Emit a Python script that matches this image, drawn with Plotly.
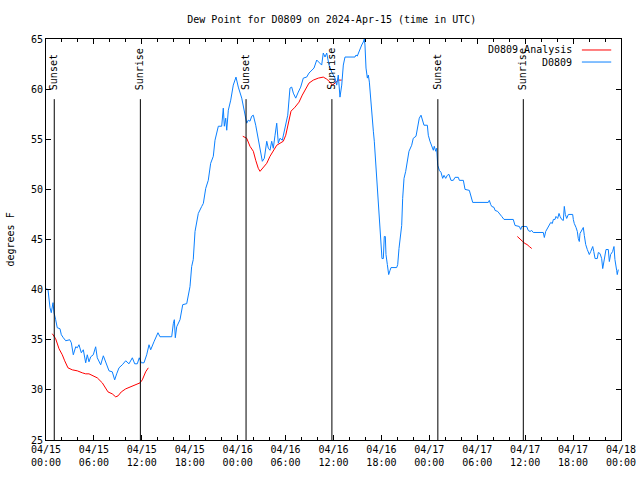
import pandas as pd
import plotly.graph_objects as go

START = pd.Timestamp("2024-04-15 00:00")
TITLE = "Dew Point for D0809 on 2024-Apr-15 (time in UTC)"

# observed dew point (hours since start, degrees F)
obs_hours = [0.05, 0.25, 0.50, 0.66, 0.88, 1.00, 1.21, 1.41, 1.75, 1.92, 2.17, 2.47, 2.97, 3.17, 3.42, 3.72,
             3.92, 4.13, 4.42, 4.67, 4.97, 5.17, 5.38, 5.60, 5.92, 6.22, 6.42, 6.85, 7.18, 7.48, 7.89, 8.30,
             8.60, 8.85, 9.14, 9.55, 9.98, 10.39, 10.81, 11.11, 11.43, 11.68, 11.93, 12.27, 12.61, 12.90,
             13.11, 13.52, 14.02, 14.27, 15.74, 15.94, 16.07, 16.19, 16.37, 16.78, 17.12, 17.62, 18.03,
             18.24, 18.44, 18.66, 19.07, 19.50, 19.70, 20.00, 20.32, 20.62, 20.95, 21.16, 21.38, 21.58,
             22.00, 22.20, 22.33, 22.50, 22.63, 22.83, 23.13, 23.25, 23.45, 23.79, 24.08, 24.51, 24.79,
             25.13, 25.33, 25.54, 25.76, 25.96, 26.26, 26.58, 26.88, 27.09, 27.34, 27.64, 27.84, 28.05,
             28.26, 28.46, 28.68, 28.89, 29.09, 29.30, 29.59, 29.93, 30.27, 30.55, 30.77, 30.97, 31.27,
             31.59, 31.89, 32.22, 32.64, 32.93, 33.27, 33.56, 33.90, 34.18, 34.52, 34.72, 34.94, 35.15,
             35.44, 35.78, 36.19, 36.40, 36.60, 36.81, 37.03, 37.23, 37.44, 38.69, 38.82, 38.98, 39.32,
             39.53, 39.73, 39.86, 39.94, 40.07, 40.24, 40.36, 40.49, 40.66, 40.82, 40.99, 41.11, 41.24,
             41.41, 41.54, 41.70, 41.82, 41.95, 42.07, 42.24, 42.36, 42.49, 42.57, 42.74, 42.91, 43.07,
             43.20, 43.91, 44.04, 44.20, 44.41, 44.54, 44.66, 44.83, 45.04, 45.24, 45.45, 45.79, 45.99,
             46.33, 46.49, 46.74, 46.96, 47.17, 47.33, 47.75, 47.87, 48.08, 48.30, 48.50, 48.62, 48.80,
             48.92, 49.00, 49.05, 49.25, 49.46, 49.67, 49.84, 50.05, 50.25, 50.46, 50.71, 51.00, 51.22,
             51.63, 51.76, 52.26, 52.47, 53.01, 53.18, 53.31, 53.43, 55.38, 55.51, 55.68, 55.81, 56.10,
             56.23, 56.56, 56.72, 56.94, 57.06, 57.35, 58.51, 58.73, 59.27, 59.44, 59.57, 59.77, 60.19,
             60.39, 60.61, 60.82, 61.02, 62.27, 62.40, 62.57, 62.77, 62.99, 63.20, 63.40, 63.53, 63.74,
             63.86, 64.07, 64.24, 64.37, 64.57, 64.78, 64.90, 65.03, 65.20, 65.41, 65.95, 66.03, 66.15,
             66.37, 66.53, 66.65, 66.78, 66.87, 67.08, 67.28, 67.41, 67.58, 67.78, 68.03, 68.21, 68.46,
             68.59, 68.75, 69.03, 69.16, 69.37, 69.58, 69.71, 69.87, 70.12, 70.41, 70.54, 70.70, 70.95,
             71.12, 71.24, 71.46, 71.53, 71.66]
obs_values = [40.1, 40.0, 38.2, 37.7, 38.7, 37.7, 37.0, 36.2, 36.1, 35.5, 35.2, 34.9, 35.0, 34.7, 33.5, 34.3,
              34.2, 34.5, 33.7, 34.0, 32.7, 33.5, 32.8, 33.3, 33.5, 34.3, 33.2, 32.5, 33.4, 32.7, 31.9, 31.8,
              31.0, 31.6, 32.2, 32.5, 32.9, 32.6, 33.2, 32.6, 32.6, 33.2, 32.7, 32.7, 33.5, 34.5,
              34.0, 34.8, 35.7, 35.3, 35.3, 36.6, 37.0, 35.2, 36.3, 37.0, 38.5, 38.6, 40.3,
              42.3, 43.0, 45.8, 47.6, 48.3, 48.6, 50.1, 50.9, 52.6, 53.3, 54.9, 55.8, 56.3,
              56.3, 58.1, 56.3, 57.1, 55.9, 57.9, 58.9, 59.7, 60.4, 61.2, 60.2, 59.1, 57.9,
              56.6, 56.9, 56.8, 57.3, 57.4, 56.4, 55.1, 53.8, 52.8, 53.1, 54.8, 54.1, 53.9,
              54.8, 54.1, 55.4, 56.6, 54.6, 55.1, 54.9, 56.1, 57.4, 60.1, 60.2, 59.6, 59.1,
              59.7, 60.2, 61.1, 61.2, 61.6, 61.9, 62.1, 62.9, 62.7, 62.4, 63.6, 63.2, 63.6,
              62.4, 61.7, 61.1, 60.4, 61.4, 59.2, 60.4, 62.4, 63.2, 63.2, 63.4, 63.3, 64.1,
              64.4, 64.7, 65.0, 64.4, 62.1, 61.1, 61.4, 60.7, 58.7, 56.8, 55.8, 54.8, 53.1,
              52.1, 49.8, 48.1, 46.3, 44.5, 43.1, 43.1, 45.3, 45.3, 43.5, 42.5, 41.5, 41.9,
              42.2, 42.2, 42.5, 44.1, 45.4, 46.4, 49.1, 51.1, 51.8, 52.8, 53.8, 54.4, 55.1,
              55.3, 56.1, 57.1, 57.4, 56.9, 56.4, 56.4, 55.4, 54.8, 54.4, 53.9, 54.3, 53.8,
              54.1, 53.1, 52.4, 51.9, 51.7, 51.1, 51.4, 51.1, 51.4, 51.5, 50.9, 50.9, 51.2,
              51.2, 50.9, 50.9, 50.0, 49.9, 49.3, 48.9, 48.7, 48.7, 48.9, 48.5, 48.3, 48.2,
              47.9, 47.8, 47.6, 47.4, 47.3, 47.0, 47.0, 46.4, 46.3, 46.0, 46.3, 46.3, 46.3,
              45.9, 45.8, 45.9, 45.7, 45.7, 45.2, 45.8, 46.1, 46.3, 46.7, 46.6, 47.0, 47.0,
              47.3, 47.1, 47.6, 47.3, 47.0, 46.9, 48.3, 47.5, 47.1, 47.5, 47.5, 47.0, 46.6,
              46.2, 45.8, 45.1, 44.8, 45.6, 45.9, 46.2, 45.4, 44.5, 44.0, 43.5, 43.8, 44.3,
              43.8, 43.1, 43.1, 43.7, 43.6, 43.1, 42.1, 43.0, 44.0, 44.0, 42.8, 43.5, 43.8,
              44.3, 43.0, 41.9, 41.5, 42.0]

# analysis segments (hours since start, degrees F)
ana1_hours = [0.79, 1.21, 1.63, 2.04, 2.34, 2.75, 3.29, 3.92, 4.55, 4.97, 5.38, 6.01, 6.42, 7.05, 7.48,
              7.76, 8.30, 8.73, 9.02, 9.43, 9.98, 10.61, 11.23, 11.77, 12.06, 12.48, 12.81]
ana1_values = [35.6, 35.1, 34.1, 33.5, 32.9, 32.2, 32.0, 31.9, 31.7, 31.6, 31.6, 31.4, 31.2, 30.7, 30.2,
               29.8, 29.6, 29.3, 29.4, 29.8, 30.1, 30.3, 30.5, 30.7, 31.0, 31.8, 32.2]
ana2_hours = [24.64, 25.13, 25.54, 25.96, 26.26, 26.58, 26.80, 27.09, 27.64, 28.05, 28.46, 28.89, 29.30,
              29.71, 30.02, 30.34, 30.68, 31.18, 31.68, 32.09, 32.52, 32.93, 33.47, 34.10, 34.72, 35.15,
              35.56, 35.85, 36.19, 36.60, 37.03]
ana2_values = [55.3, 55.1, 54.3, 53.8, 52.9, 52.1, 51.8, 52.1, 52.6, 53.3, 53.8, 54.4, 54.6,
               54.8, 55.4, 56.7, 57.8, 58.2, 58.7, 59.4, 60.1, 60.6, 60.9, 61.1, 61.2, 61.0,
               60.7, 60.4, 60.6, 60.9, 60.9]
ana3_hours = [59.02, 59.35, 59.69, 59.98, 60.23, 60.52, 60.82]
ana3_values = [45.3, 45.0, 44.8, 44.6, 44.5, 44.3, 44.1]

sun_labels = ["Sunset", "Sunrise", "Sunset", "Sunrise", "Sunset", "Sunrise"]
sun_times = ["2024-04-15 01:02", "2024-04-15 11:49", "2024-04-16 01:03",
             "2024-04-16 11:48", "2024-04-17 01:04", "2024-04-17 11:46"]

series_names = ["D0809 Analysis", "D0809"]
series_colors = ["#ff0000", "#0a80ff"]

FONT = "DejaVu Sans Mono"
FIG_W, FIG_H = 640, 480


def to_time(hours):
    return list(START + pd.to_timedelta(hours, unit="h"))


ana_x = to_time(ana1_hours) + [None] + to_time(ana2_hours) + [None] + to_time(ana3_hours)
ana_y = ana1_values + [None] + ana2_values + [None] + ana3_values

fig = go.Figure()
fig.add_trace(go.Scatter(x=ana_x, y=ana_y, mode="lines", name=series_names[0],
                         line=dict(color=series_colors[0], width=1), connectgaps=False))
fig.add_trace(go.Scatter(x=to_time(obs_hours), y=obs_values, mode="lines", name=series_names[1],
                         line=dict(color=series_colors[1], width=1)))

for lab, t in zip(sun_labels, sun_times):
    fig.add_shape(type="line", xref="x", yref="paper", x0=t, x1=t, y0=0, y1=0.85,
                  line=dict(color="black", width=1))
    fig.add_annotation(x=t, xref="x", y=0.868, yref="paper", text=lab, textangle=-90,
                       showarrow=False, xanchor="center", yanchor="bottom",
                       font=dict(family=FONT, size=10, color="black"))

# gnuplot-style legend (text left of the line sample)
leg_y = [0.9726, 0.9426]
for name, col, yy in zip(series_names, series_colors, leg_y):
    fig.add_annotation(x=0.918, xref="paper", y=yy, yref="paper", text=name, showarrow=False,
                       xanchor="right", yanchor="middle", font=dict(family=FONT, size=10, color="black"))
    fig.add_shape(type="line", xref="paper", yref="paper", x0=0.932, x1=0.983, y0=yy, y1=yy,
                  line=dict(color=col, width=1))

fig.add_annotation(x=-0.0626, xref="paper", y=0.5, yref="paper", text="degrees F", textangle=-90,
                   showarrow=False, xanchor="center", yanchor="middle",
                   font=dict(family=FONT, size=10, color="black"))

fig.update_layout(
    width=FIG_W, height=FIG_H,
    margin=dict(l=46, r=19, t=39, b=40, autoexpand=False),
    paper_bgcolor="white", plot_bgcolor="white",
    showlegend=False,
    font=dict(family=FONT, size=10, color="black"),
    title=dict(text=TITLE, x=0.497, xref="paper", y=1 - 19 / FIG_H, yanchor="middle",
               font=dict(family=FONT, size=10, color="black"), automargin=False),
    xaxis=dict(range=["2024-04-15 00:00", "2024-04-18 00:00"], type="date", automargin=False,
               dtick=6 * 3600 * 1000, tick0="2024-04-15 00:00", tickformat="%m/%d<br>%H:%M",
               ticks="inside", ticklen=5, tickcolor="black", showline=True, linecolor="black",
               linewidth=1, mirror="allticks", showgrid=False, zeroline=False,
               minor=dict(dtick=2 * 3600 * 1000, ticks="inside", ticklen=3, tickcolor="black",
                          showgrid=False),
               tickfont=dict(family=FONT, size=10)),
    yaxis=dict(range=[25, 65], dtick=5, ticks="inside", ticklen=5, tickcolor="black", automargin=False,
               showline=True, linecolor="black", linewidth=1, mirror="allticks",
               showgrid=False, zeroline=False, tickfont=dict(family=FONT, size=10)),
)

fig.write_html("out.html", config={"displayModeBar": False},
               post_script="document.body.style.margin='0';")
